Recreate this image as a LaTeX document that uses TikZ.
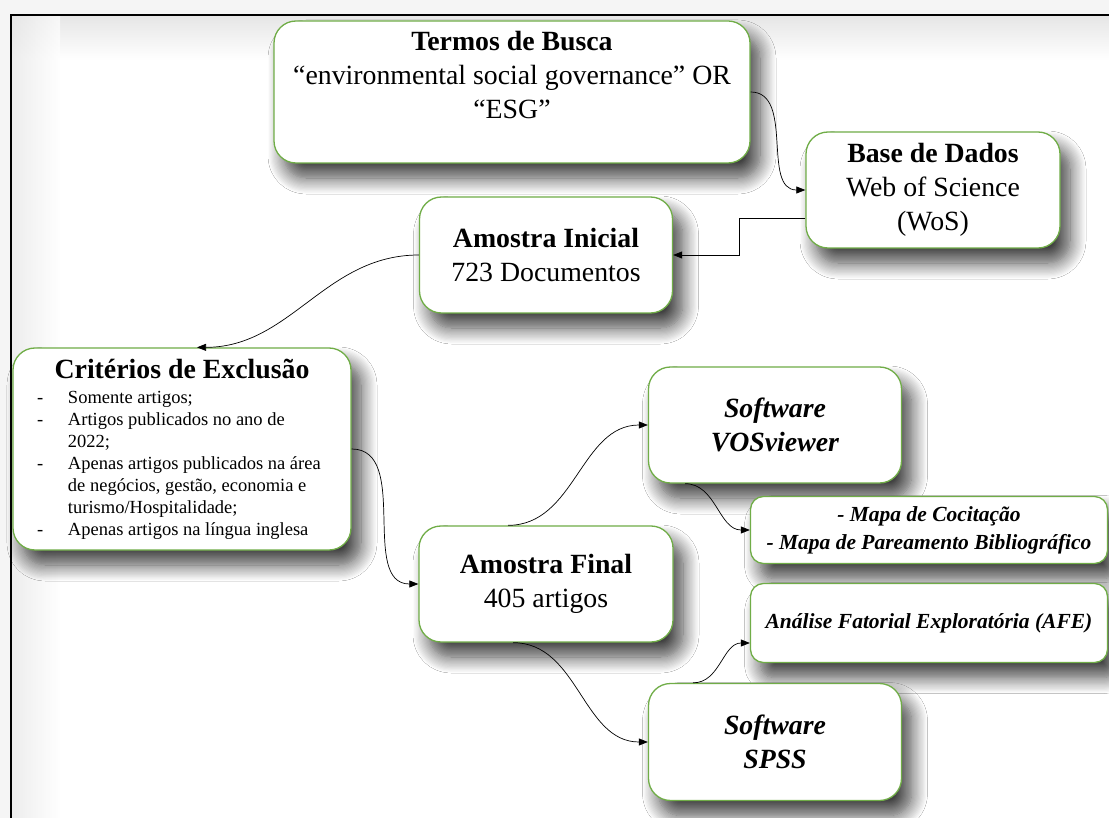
\documentclass[tikz,border=0pt]{standalone}
\usepackage{fontspec}
\setmainfont{Liberation Serif}
\usetikzlibrary{arrows.meta,shadows.blur}
\definecolor{verdeborda}{HTML}{70AD47}
% item of the exclusion list
\newcommand{\criterio}[1]{\par\noindent\hangindent=46pt\hangafter=1\hspace*{15pt}\makebox[31pt][l]{-}#1\par}

\begin{document}
\begin{tikzpicture}[x=1pt,y=-1pt,
	caixa/.style={rectangle, rounded corners=22pt, line width=1.3pt, draw=verdeborda, fill=white, align=center, inner sep=2pt,
		blur shadow={shadow xshift=10pt, shadow yshift=-15pt, shadow blur radius=16pt, shadow blur steps=14, shadow opacity=75},
		font=\fontsize{27.8}{34}\selectfont},
	caixapeq/.style={caixa, rounded corners=13pt, font=\fontsize{21.5}{28}\selectfont\bfseries\itshape},
	seta/.style={-{Triangle[length=9pt,width=7pt]}, line width=0.7pt}]
	\useasboundingbox (0,0) rectangle (1109,818);
	\fill[black!4] (0,0) rectangle (1109,818);
	\fill[white] (11,15) rectangle (1109,818);
	\shade[top color=black!10, bottom color=white] (11,15) rectangle (1109,60);
	\shade[left color=black!10, right color=white, fill opacity=0.7] (11,15) rectangle (60,818);
	\draw[line width=2pt] (11,15) rectangle (1130,840);

	\node[caixa, minimum width=476pt, minimum height=142pt, text depth=34pt](busca) at (512,92){\textbf{Termos de Busca}\\“environmental social governance” OR\\“ESG”};
	\node[caixa, minimum width=254pt, minimum height=116pt](base) at (933,190){\textbf{Base de Dados}\\Web of Science\\(WoS)};
	\node[caixa, minimum width=253pt, minimum height=116pt](inicial) at (546,255){\textbf{Amostra Inicial}\\723 Documentos};
	\node[caixa, minimum width=338pt, minimum height=202pt, text width=320pt, align=left](criterios) at (182,449){%
		\spaceskip=0pt\xspaceskip=0pt
		{\centering\bfseries Critérios de Exclusão\par}\vspace{3pt}
		\raggedright\fontsize{18.5}{22}\selectfont
		\criterio{Somente artigos;}
		\criterio{Artigos publicados no ano de\newline 2022;}
		\criterio{Apenas artigos publicados na área\newline de negócios, gestão, economia e\newline turismo/Hospitalidade;}
		\criterio{Apenas artigos na língua inglesa}};
	\node[caixa, minimum width=253pt, minimum height=116pt](vos) at (775,425){\textbf{\textit{Software}}\\\textbf{\textit{VOSviewer}}};
	\node[caixa, minimum width=254pt, minimum height=116pt](final) at (546,584){\textbf{Amostra Final}\\405 artigos};
	\node[caixapeq, minimum width=357pt, minimum height=67pt](mapa) at (929,530){- Mapa de Cocitação\\- Mapa de Pareamento Bibliográfico};
	\node[caixapeq, minimum width=357pt, minimum height=79pt](afe) at (929,623){Análise Fatorial Exploratória (AFE)};
	\node[caixa, minimum width=253pt, minimum height=117pt](spss) at (775,742){\textbf{\textit{Software}}\\\textbf{\textit{SPSS}}};

	\draw[seta] (busca.east) to[out=0, in=180] (base.west);
	\draw[seta] ([yshift=-28pt]base.west) -- ++(-66,0) |- (inicial.east);
	\draw[seta] (inicial.west) to[out=180, in=0] ([xshift=15pt]criterios.north);
	\draw[seta] (criterios.east) to[out=0, in=180] (final.west);
	\draw[seta] ([xshift=-38pt]final.north) to[out=0, in=180] (vos.west);
	\draw[seta] ([xshift=-90pt]vos.south) to[out=0, in=180] (mapa.west);
	\draw[seta] ([xshift=-33pt]final.south) to[out=0, in=180] (spss.west);
	\draw[seta] ([xshift=-82pt]spss.north) to[out=0, in=180] ([yshift=-20pt]afe.west);
\end{tikzpicture}
\end{document}
